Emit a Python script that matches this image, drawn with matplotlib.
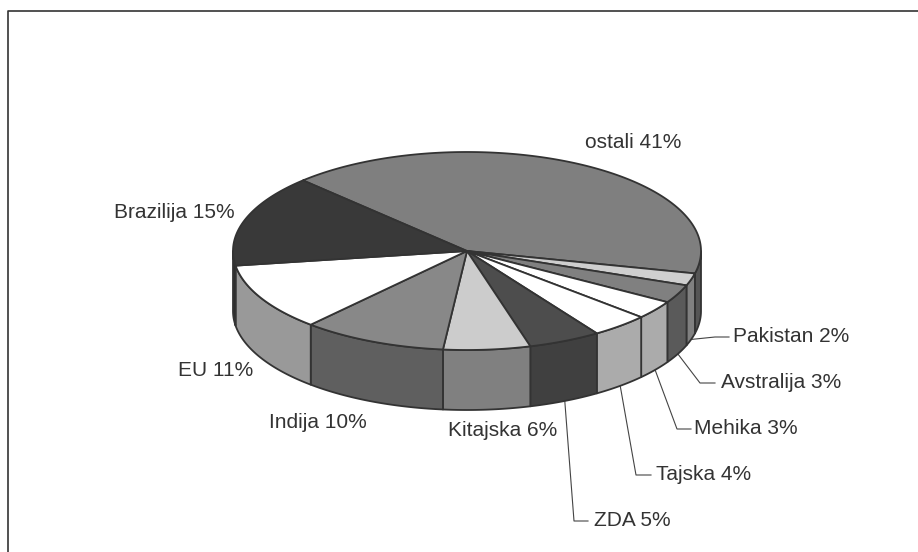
import numpy as np
import matplotlib
matplotlib.use('Agg')
import matplotlib.pyplot as plt
from matplotlib.patches import Polygon

plt.rcParams['font.family'] = ['Liberation Sans', 'DejaVu Sans']

# data, clockwise from the top left
names = ['ostali', 'Pakistan', 'Avstralija', 'Mehika', 'Tajska', 'ZDA',
         'Kitajska', 'Indija', 'EU', 'Brazilija']
shares = [41, 2, 3, 3, 4, 5, 6, 10, 11, 15]

top_colors = ['#7f7f7f', '#cfcfcf', '#808080', '#ffffff', '#ffffff', '#4d4d4d',
              '#cccccc', '#888888', '#ffffff', '#393939']
side_colors = ['#555555', '#808080', '#5a5a5a', '#ababab', '#ababab', '#404040',
               '#808080', '#5f5f5f', '#999999', '#2c2c2c']

# pie geometry in pixels
cx, cy = 467, 251
rx, ry = 234, 99
depth = 60
start = 134.5
edge = '#333333'

# label centre, then elbow and end of the leader line (None = no leader)
label_pos = [(633, 143), (791, 336), (781, 383), (746, 429), (704, 474),
             (632, 520), (503, 431), (318, 422), (216, 371), (174, 213)]
leaders = [None, [(715, 337), (729, 337)], [(700, 383), (715, 383)],
           [(677, 429), (691, 429)], [(636, 475), (651, 475)],
           [(574, 521), (588, 521)], None, None, None, None]


def rim(a0, a1, drop=0):
    t = np.radians(np.linspace(a0, a1, max(int(abs(a1 - a0)) * 2, 2)))
    return np.column_stack([cx + rx * np.cos(t), cy - ry * np.sin(t) + drop])


fig = plt.figure(figsize=(9.18, 5.52), dpi=100)
ax = fig.add_axes([0, 0, 1, 1])
ax.set_xlim(0, 918)
ax.set_ylim(552, 0)
ax.axis('off')

# the frame is cut off on the right and at the bottom
ax.plot([8, 8, 918], [552, 11, 11], color='#333333', lw=1.2, zorder=0)

# slices go clockwise
ends = start - np.cumsum(shares) * 3.6
begins = np.concatenate([[start], ends[:-1]])

# outer wall, only the front half shows
for a0, a1, c in zip(begins, ends, side_colors):
    for shift in (0, 360):
        lo, hi = max(a1 + shift, 180), min(a0 + shift, 360)
        if hi > lo:
            upper = rim(lo, hi)
            lower = rim(hi, lo, depth)
            ax.add_patch(Polygon(np.vstack([upper, lower]), fc=c, ec=edge,
                                 lw=1.3, joinstyle='round', zorder=2))

# top faces
for a0, a1, c in zip(begins, ends, top_colors):
    pts = np.vstack([[(cx, cy)], rim(a0, a1)])
    ax.add_patch(Polygon(pts, fc=c, ec=edge, lw=1.3, joinstyle='round', zorder=3))

for name, val, pos, lead, a0, a1 in zip(names, shares, label_pos, leaders, begins, ends):
    ax.text(pos[0], pos[1], f'{name} {val}%', ha='center', va='center',
            fontsize=15, color='#333333', zorder=5)
    if lead:
        mid = np.radians((a0 + a1) / 2)
        p0 = (cx + rx * np.cos(mid), cy - ry * np.sin(mid) + depth)
        xs, ys = zip(p0, *lead)
        ax.plot(xs, ys, color='#444444', lw=0.8, zorder=1)

fig.savefig('out.png', dpi=100)
